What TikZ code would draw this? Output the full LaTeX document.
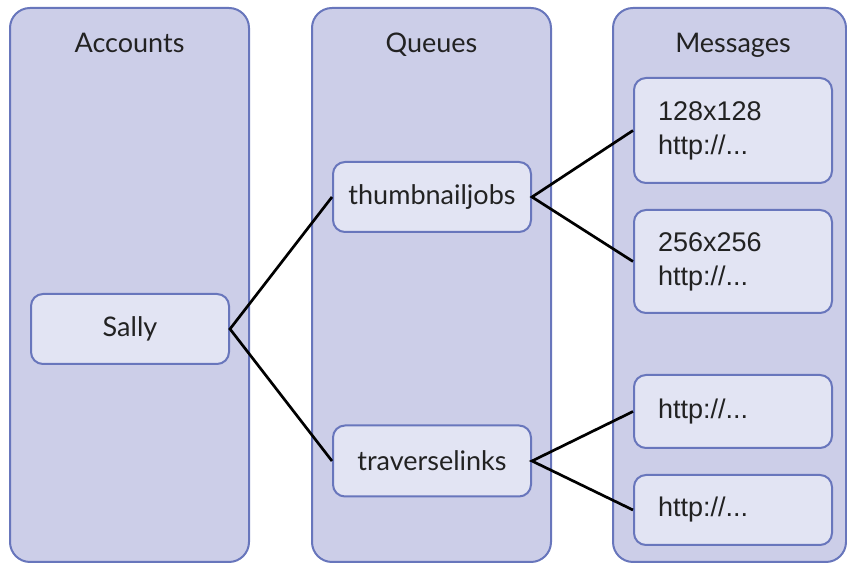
\documentclass[tikz,border=0pt]{standalone}
\usepackage{fontspec}
\setmainfont{Lato}
\newfontfamily\msgfont{Liberation Sans}
\usetikzlibrary{positioning}
\definecolor{panelfill}{RGB}{204,206,232}
\definecolor{panelborder}{RGB}{104,118,188}
\definecolor{itemfill}{RGB}{226,228,243}
\definecolor{textgray}{RGB}{34,34,34}

\begin{document}
\begin{tikzpicture}[x=1pt,y=1pt,
  panel/.style={draw=panelborder, line width=2pt, fill=panelfill, rounded corners=20pt,
    minimum width=239pt, minimum height=554pt, inner sep=0pt},
  item/.style={draw=panelborder, line width=2pt, fill=itemfill, rounded corners=12pt,
    minimum width=198pt, minimum height=70pt, inner sep=0pt, text=textgray,
    font=\fontsize{27}{32}\selectfont},
  msg/.style={item, text width=150pt, align=left, font=\msgfont\fontsize{27}{34}\selectfont},
  title/.style={text=textgray, font=\fontsize{27}{32}\selectfont},
  link/.style={line width=2.7pt}]

\useasboundingbox (0,0) rectangle (847,564);

% columns
\node[panel] (accounts) at (129.5,279) {};
\node[panel] (queues) at (431.5,279) {};
\node[panel, minimum width=233pt] (messages) at (729.5,279) {};

% titles
\node[title, anchor=base] (accountstitle) at (129.5,511) {Accounts};
\node[title, anchor=base] (queuestitle) at (431.5,511) {Queues};
\node[title, anchor=base] (messagestitle) at (733,511) {Messages};

% account and queues
\node[item] (sally) at (130,235) {Sally};
\node[item] (thumbjobs) at (432,367) {thumbnailjobs};
\node[item, minimum height=71pt] (travlinks) at (432,103) {traverselinks};

% messages
\node[msg, minimum height=105pt] (msgone) at (733,433.5) {128x128\\http://...};
\node[msg, minimum height=103pt] (msgtwo) at (733,302.5) {256x256\\http://...};
\node[msg, minimum height=73pt] (msgthree) at (733,152.5) {http://...};
\node[msg] (msgfour) at (733,54) {http://...};

% links
\draw[link] (thumbjobs.west) -- (sally.east) -- (travlinks.west);
\draw[link] (msgone.west) -- (thumbjobs.east) -- (msgtwo.west);
\draw[link] (msgthree.west) -- (travlinks.east) -- (msgfour.west);

\end{tikzpicture}
\end{document}
